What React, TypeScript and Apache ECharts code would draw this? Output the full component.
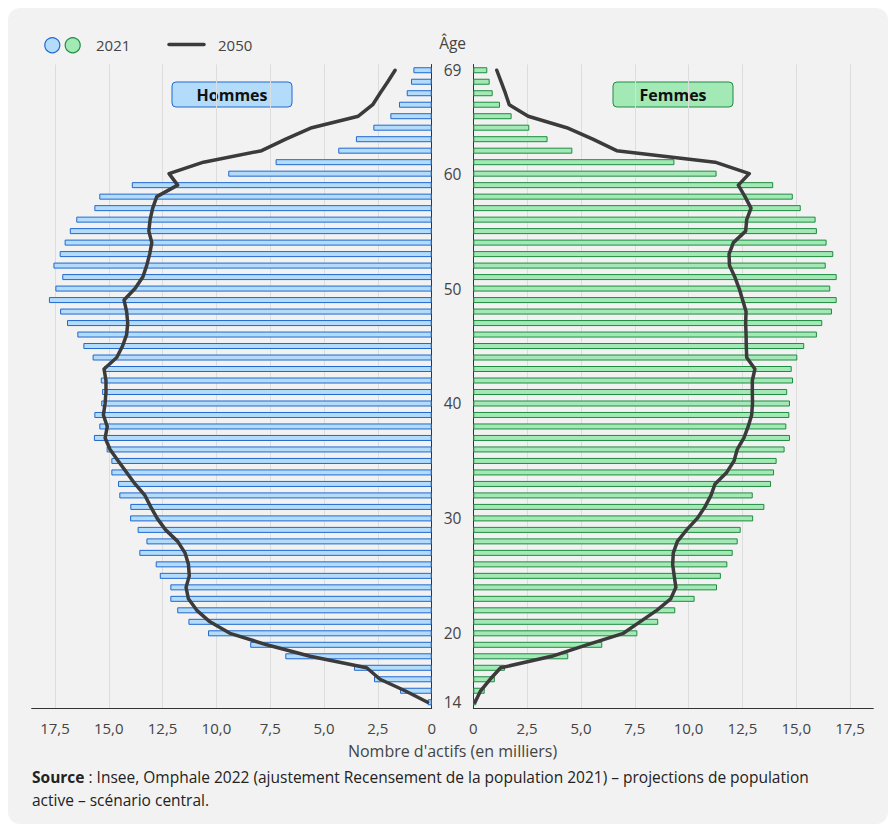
import React, { useEffect, useRef } from 'react';
import * as echarts from 'echarts';

const ages = [
  '14', '15', '16', '17', '18', '19', '20', '21', '22', '23', '24', '25', '26', '27',
  '28', '29', '30', '31', '32', '33', '34', '35', '36', '37', '38', '39', '40', '41',
  '42', '43', '44', '45', '46', '47', '48', '49', '50', '51', '52', '53', '54', '55',
  '56', '57', '58', '59', '60', '61', '62', '63', '64', '65', '66', '67', '68', '69',
];
const shownAges = ['14', '20', '30', '40', '50', '60', '69'];

const hommes2021 = [
  0.19, 1.47, 2.68, 3.61, 6.8, 8.43, 10.39, 11.3, 11.82, 12.14, 12.14, 12.63, 12.82, 13.58,
  13.25, 13.66, 14.01, 14.0, 14.51, 14.57, 14.88, 14.88, 15.1, 15.69, 15.44, 15.67, 15.35, 15.31,
  15.37, 15.22, 15.75, 16.18, 16.46, 16.94, 17.26, 17.78, 17.48, 17.16, 17.57, 17.28, 17.05, 16.81,
  16.51, 15.67, 15.44, 13.93, 9.45, 7.25, 4.34, 3.52, 2.71, 1.92, 1.52, 1.16, 0.96, 0.85,
];
const hommes2050 = [
  0.19, 1.24, 2.4, 3.02, 5.65, 7.66, 9.37, 10.3, 10.91, 11.3, 11.41, 11.26, 11.3, 11.46,
  11.8, 12.36, 12.75, 13.05, 13.32, 13.78, 14.17, 14.56, 14.94, 15.17, 15.07, 15.25, 15.17, 15.13,
  15.13, 15.22, 14.63, 14.36, 14.17, 14.12, 14.17, 14.29, 13.78, 13.42, 13.24, 13.1, 13.0, 13.14,
  13.08, 12.96, 12.77, 11.8, 12.2, 10.6, 7.9, 6.78, 5.57, 3.41, 2.74, 2.4, 2.04, 1.7,
];
const femmes2021 = [
  0.14, 0.53, 1.0, 1.47, 4.41, 5.99, 7.62, 8.59, 9.38, 10.28, 11.32, 11.5, 11.8, 12.05,
  12.28, 12.42, 13.0, 13.52, 12.98, 13.83, 13.97, 14.09, 14.46, 14.71, 14.54, 14.68, 14.71, 14.58,
  14.85, 14.79, 15.05, 15.37, 15.96, 16.21, 16.66, 16.88, 16.58, 16.88, 16.37, 16.72, 16.41, 15.96,
  15.9, 15.21, 14.84, 13.93, 11.3, 9.34, 4.6, 3.45, 2.6, 1.78, 1.24, 0.9, 0.76, 0.65,
];
const femmes2050 = [
  0.08, 0.34, 0.78, 1.27, 3.64, 5.27, 6.97, 7.74, 8.52, 9.17, 9.41, 9.33, 9.26, 9.29,
  9.48, 9.91, 10.4, 10.76, 11.04, 11.23, 11.77, 12.11, 12.26, 12.57, 12.77, 12.93, 12.97, 12.96,
  12.96, 13.08, 12.7, 12.68, 12.67, 12.65, 12.67, 12.51, 12.35, 12.15, 11.9, 11.88, 12.08, 12.65,
  12.7, 12.9, 12.62, 12.31, 12.82, 11.23, 6.66, 5.55, 4.34, 2.55, 1.67, 1.49, 1.29, 1.09,
];

const FONT = '"Open Sans", "Noto Sans", sans-serif';
const BLUE_FILL = '#b3dcfb';
const BLUE_LINE = '#2068cf';
const GREEN_FILL = '#a3e9b6';
const GREEN_LINE = '#1f8b40';
const LINE_COLOR = '#3b3b3b';
const TEXT = '#444444';

export default function App() {
  const ref = useRef<HTMLDivElement>(null);

  useEffect(() => {
    const chart = echarts.init(ref.current as HTMLDivElement, null, { renderer: 'svg' });
    const fmt = (v: number) => (v === 0 ? '0' : v.toFixed(1).replace('.', ','));

    const xAxisFor = (gridIndex: number, inverse: boolean) => ({
      type: 'value',
      gridIndex,
      inverse,
      min: 0,
      max: 18.58,
      interval: 2.5,
      axisLine: { show: true, lineStyle: { color: '#333333', width: 1 } },
      axisTick: { show: false },
      axisLabel: {
        formatter: fmt,
        color: TEXT,
        fontSize: 15,
        fontFamily: FONT,
        margin: 12,
        showMaxLabel: false,
      },
      splitLine: {
        show: true,
        showMaxLine: false,
        lineStyle: { color: '#dddddd', width: 1 },
      },
    });

    const graphic: any[] = [
      // legend
      { type: 'circle', shape: { cx: 44.3, cy: 37.3, r: 7.5 }, style: { fill: BLUE_FILL, stroke: BLUE_LINE, lineWidth: 1.2 } },
      { type: 'circle', shape: { cx: 64.7, cy: 37.3, r: 7.5 }, style: { fill: GREEN_FILL, stroke: GREEN_LINE, lineWidth: 1.2 } },
      { type: 'text', x: 88, y: 37.3, style: { text: '2021', fontSize: 15, fontFamily: FONT, fill: TEXT, verticalAlign: 'middle', textVerticalAlign: 'middle' } },
      { type: 'line', shape: { x1: 161, y1: 36.5, x2: 196, y2: 36.5 }, style: { stroke: LINE_COLOR, lineWidth: 3.5, lineCap: 'round' } },
      { type: 'text', x: 210, y: 37.3, style: { text: '2050', fontSize: 15, fontFamily: FONT, fill: TEXT, verticalAlign: 'middle', textVerticalAlign: 'middle' } },
      // axis title
      { type: 'text', x: 444.6, y: 35, style: { text: 'Âge', fontSize: 15.5, fontFamily: FONT, fill: TEXT, align: 'center', textAlign: 'center', verticalAlign: 'middle', textVerticalAlign: 'middle' } },
      // sex boxes
      { type: 'rect', shape: { x: 164, y: 74, width: 120, height: 25, r: 4 }, style: { fill: BLUE_FILL, stroke: BLUE_LINE, lineWidth: 1 } },
      { type: 'text', x: 224, y: 86.5, style: { text: 'Hommes', fontSize: 16, fontWeight: 'bold', fontFamily: FONT, fill: '#111111', align: 'center', textAlign: 'center', verticalAlign: 'middle', textVerticalAlign: 'middle' } },
      { type: 'rect', shape: { x: 605, y: 74, width: 120, height: 25, r: 4 }, style: { fill: GREEN_FILL, stroke: GREEN_LINE, lineWidth: 1 } },
      { type: 'text', x: 665, y: 86.5, style: { text: 'Femmes', fontSize: 16, fontWeight: 'bold', fontFamily: FONT, fill: '#111111', align: 'center', textAlign: 'center', verticalAlign: 'middle', textVerticalAlign: 'middle' } },
      // x axis name
      { type: 'text', x: 444.5, y: 743, style: { text: "Nombre d'actifs (en milliers)", fontSize: 16, fontFamily: FONT, fill: TEXT, align: 'center', textAlign: 'center', verticalAlign: 'middle', textVerticalAlign: 'middle' } },
      // source
      {
        type: 'text',
        x: 24,
        y: 757.5,
        style: {
          text: '{b|Source} : Insee, Omphale 2022 (ajustement Recensement de la population 2021) – projections de population\nactive – scénario central.',
          fontSize: 15.5,
          fontFamily: FONT,
          fill: '#222222',
          lineHeight: 23,
          rich: {
            b: { fontSize: 15.5, fontFamily: FONT, fontWeight: 'bold', fill: '#222222', lineHeight: 23 },
          },
        },
      },
    ];

    chart.setOption({
      animation: false,
      backgroundColor: 'transparent',
      grid: [
        { left: 23.7, top: 56.5, width: 400, bottom: 116, containLabel: false },
        { left: 465.3, top: 56.5, width: 400, bottom: 116, containLabel: false },
      ],
      xAxis: [xAxisFor(0, true), xAxisFor(1, false)],
      yAxis: [
        {
          type: 'category',
          gridIndex: 0,
          data: ages,
          position: 'right',
          axisLine: { show: true, lineStyle: { color: '#333333', width: 1 } },
          axisTick: { show: false },
          splitLine: { show: false },
          axisLabel: {
            interval: (_i: number, v: string) => shownAges.includes(v),
            align: 'center',
            margin: 20.8,
            color: TEXT,
            fontSize: 15.5,
            fontFamily: FONT,
          },
        },
        {
          type: 'category',
          gridIndex: 1,
          data: ages,
          position: 'left',
          axisLine: { show: true, lineStyle: { color: '#333333', width: 1 } },
          axisTick: { show: false },
          splitLine: { show: false },
          axisLabel: { show: false },
        },
      ],
      series: [
        {
          name: 'Hommes 2021',
          type: 'bar',
          xAxisIndex: 0,
          yAxisIndex: 0,
          data: hommes2021,
          barWidth: 6,
          silent: true,
          itemStyle: { color: BLUE_FILL, borderColor: BLUE_LINE, borderWidth: 1 },
        },
        {
          name: 'Femmes 2021',
          type: 'bar',
          xAxisIndex: 1,
          yAxisIndex: 1,
          data: femmes2021,
          barWidth: 6,
          silent: true,
          itemStyle: { color: GREEN_FILL, borderColor: GREEN_LINE, borderWidth: 1 },
        },
        {
          name: 'Hommes 2050',
          type: 'line',
          xAxisIndex: 0,
          yAxisIndex: 0,
          data: hommes2050.map((v, i) => [v, ages[i]]),
          symbol: 'none',
          z: 5,
          lineStyle: { color: LINE_COLOR, width: 3.5, cap: 'round', join: 'round' },
        },
        {
          name: 'Femmes 2050',
          type: 'line',
          xAxisIndex: 1,
          yAxisIndex: 1,
          data: femmes2050.map((v, i) => [v, ages[i]]),
          symbol: 'none',
          z: 5,
          lineStyle: { color: LINE_COLOR, width: 3.5, cap: 'round', join: 'round' },
        },
      ],
      graphic,
    });

    return () => chart.dispose();
  }, []);

  return (
    <div
      ref={ref}
      style={{ width: 880, height: 816, background: '#f2f2f2', borderRadius: 12 }}
    />
  );
}
